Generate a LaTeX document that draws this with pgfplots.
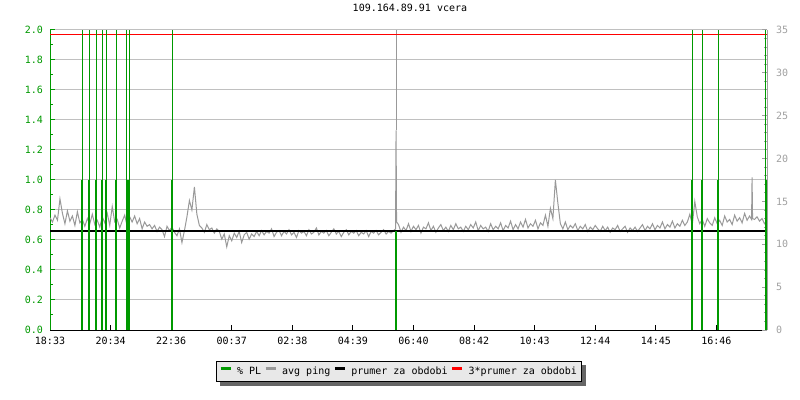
\documentclass[border=0pt]{standalone}
\usepackage{fontspec}
\setmainfont{DejaVu Sans Mono}
\usepackage{pgfplots}
\pgfplotsset{compat=1.18}

\definecolor{plgreen}{RGB}{0,153,0}
\definecolor{pinggray}{RGB}{153,153,153}
\definecolor{gridgray}{RGB}{192,192,192}
\definecolor{axgray}{RGB}{160,160,160}
\definecolor{legfill}{RGB}{232,232,232}
\definecolor{shadowgray}{RGB}{102,102,102}

\pgfdeclarelayer{background}
\pgfsetlayers{background,main}

% shared frame: plot area 717 x 300 px
\pgfplotsset{
  frame/.style={
    scale only axis, width=717bp, height=300bp,
    at={(0,0)}, anchor=south west,
    xmin=0, xmax=1440,
    tick label style={font=\fontsize{10bp}{12bp}\selectfont},
    /pgf/number format/assume math mode=true,
  },
}

\begin{document}
\begin{tikzpicture}
% left axis (% PL scale), grid and time axis
\begin{axis}[frame,
  ymin=0, ymax=2,
  axis y line*=left, axis x line*=bottom,
  tick align=inside,
  major tick length=5bp, minor tick length=3bp,
  xtick={0,121.7,243.3,365,486.7,608.3,730,851.7,973.3,1095,1216.7,1338.3},
  xticklabels={18:33,20:34,22:36,00:37,02:38,04:39,06:40,08:42,10:43,12:44,14:45,16:46},
  xticklabel style={yshift=-3.5bp},
  x axis line style={black, line width=1bp},
  x tick style={black, line width=1bp},
  ytick={0,0.2,0.4,0.6,0.8,1,1.2,1.4,1.6,1.8,2},
  minor y tick num=1,
  y axis line style={plgreen, line width=1bp},
  y tick style={plgreen, line width=1bp},
  yticklabel style={plgreen, xshift=-3.5bp,
    /pgf/number format/.cd, fixed, fixed zerofill, precision=1},
  ymajorgrids,
  grid style={gridgray, line width=1bp},
  title={109.164.89.91 vcera},
  title style={at={(0.502,1)}, anchor=center, yshift=16bp,
    font=\fontsize{10bp}{12bp}\selectfont},
]
\end{axis}

% right axis (avg ping, ms)
\begin{axis}[frame,
  ymin=0, ymax=35,
  axis y line*=right, axis x line=none,
  tick align=inside,
  major tick length=5bp, minor tick length=3bp,
  ytick={0,5,10,15,20,25,30,35},
  minor y tick num=4,
  y axis line style={axgray, line width=1bp},
  y tick style={axgray, line width=1bp},
  yticklabel style={axgray, xshift=5.5bp},
  legend columns=-1,
  legend image code/.code={\draw[#1, line width=3bp] (0bp,3bp) -- (10bp,3bp);},
  legend style={name=leg, at={(0.4868,-0.138)}, anchor=center,
    fill=legfill, draw=black, line width=1bp,
    inner xsep=2.5bp, inner ysep=3.5bp,
    font=\fontsize{10bp}{12bp}\selectfont,
    /tikz/every even column/.append style={column sep=1bp},
    /tikz/every odd column/.append style={column sep=3bp},
  },
  legend cell align=left,
]
\addlegendimage{plgreen}
\addlegendentry{\% PL}

\addplot[pinggray, line width=1bp] coordinates {
(0,13.1) (5,12.6) (10,13.4) (15,12.8) (20,15.3) (25,13.6) (30,12.4) (35,13.9) (40,12.7) (45,13.3)
(50,12.2) (55,13.8) (60,12.5) (65,12.9) (70,12.1) (75,13.0) (80,12.4) (85,13.5) (90,12.3)
(95,12.8) (100,12.0) (105,13.2) (110,12.5) (115,13.6) (120,12.2) (125,14.4) (130,12.6) (135,12.9)
(140,11.9) (145,12.7) (150,13.4) (155,12.1) (160,13.2) (165,12.6) (170,13.3) (175,12.4) (180,13.0)
(185,11.8) (190,12.6) (195,12.1) (200,12.3)
(205,11.8) (210,12.2) (215,11.5) (220,12.0) (225,11.7) (230,10.9) (235,12.1) (240,11.6) (245,12.0)
(250,11.4) (255,11.0) (260,11.8) (265,10.2) (270,11.6)
(275,13.2) (280,15.1) (285,14.0) (290,16.7) (295,13.5) (300,12.2)
(305,11.9) (310,11.4) (315,12.3) (320,11.7) (325,11.9) (330,11.3) (335,11.8) (340,11.5)
(345,10.6) (350,11.2) (355,9.7) (360,11.0) (365,10.4) (370,11.3) (375,10.8) (380,11.5) (385,10.2)
(390,11.1) (395,11.4) (400,10.6) (405,11.2) (410,10.9) (415,11.5) (420,11.0)
(425,11.6) (430,11.1) (435,11.5) (440,11.3) (445,11.8) (450,10.9) (455,11.4) (460,11.6) (465,11.0)
(470,11.5) (475,11.2) (480,11.7) (485,11.1) (490,11.4) (495,10.8) (500,11.6) (505,11.3) (510,11.5)
(515,11.0) (520,11.7) (525,11.2) (530,11.4) (535,11.9) (540,11.1) (545,11.5) (550,11.3) (555,11.6)
(560,11.0) (565,11.4) (570,11.8) (575,11.2) (580,11.5) (585,10.9) (590,11.4) (595,11.7) (600,11.1)
(605,11.5) (610,11.3) (615,11.6) (620,11.0) (625,11.4) (630,11.2) (635,11.6) (640,10.9) (645,11.5)
(650,11.3) (655,11.6) (660,11.1) (665,11.4) (670,11.7) (675,11.2) (680,11.5) (685,11.3) (690,11.6)
(694,11.8) (695,23.3) (696,12.6) (700,12.3)
(705,11.4) (710,12.0) (715,11.6) (720,12.4) (725,11.5) (730,12.1) (735,11.7) (740,12.2) (745,11.3)
(750,12.0) (755,11.8) (760,12.5) (765,11.6) (770,12.1) (775,11.4) (780,11.9) (785,12.3) (790,11.6)
(795,12.0) (800,11.5) (805,12.2) (810,11.7) (815,12.4) (820,11.8) (825,12.0) (830,11.5) (835,12.1)
(840,11.7) (845,12.3) (850,11.9) (855,12.6) (860,11.6) (865,12.2) (870,11.8) (875,12.0) (880,11.5)
(885,12.4) (890,11.7) (895,12.1) (900,11.8) (905,12.5) (910,11.6) (915,12.2) (920,11.9) (925,12.7)
(930,11.7) (935,12.3) (940,11.8) (945,12.6) (950,12.0) (955,12.9) (960,11.9) (965,12.4) (970,12.1)
(975,12.8) (980,11.8) (985,12.5) (990,12.2) (995,13.4) (1000,12.1) (1005,14.2) (1010,13.0)
(1015,17.5) (1020,14.8) (1025,12.4) (1030,11.8) (1035,12.6) (1040,11.7) (1045,12.2) (1050,11.9)
(1055,12.4) (1060,11.6) (1065,12.1) (1070,11.8) (1075,12.3) (1080,11.5) (1085,12.0) (1090,11.7)
(1095,12.2) (1100,11.8) (1105,11.5) (1110,12.1) (1115,11.6) (1120,12.0) (1125,11.4) (1130,11.9)
(1135,11.7) (1140,12.2) (1145,11.5) (1150,11.8) (1155,12.1) (1160,11.4) (1165,11.9) (1170,11.6)
(1175,12.0) (1180,11.5) (1185,11.9) (1190,12.3) (1195,11.6) (1200,12.1) (1205,11.8) (1210,12.4)
(1215,11.7) (1220,12.2) (1225,11.9) (1230,12.6) (1235,11.8) (1240,12.3) (1245,12.0) (1250,12.7)
(1255,11.9) (1260,12.4) (1265,12.1) (1270,12.8) (1275,12.2) (1280,12.6) (1285,13.5) (1290,12.3)
(1295,15.0) (1300,13.2) (1305,12.4) (1310,12.9) (1315,12.1) (1320,13.0) (1325,12.5) (1330,12.2)
(1335,13.1) (1340,12.4) (1345,12.8) (1350,12.2) (1355,13.3) (1360,12.6) (1365,12.9) (1370,12.3)
(1375,13.4) (1380,12.7) (1385,13.1) (1390,12.5) (1395,13.6) (1400,12.8) (1405,13.3)
(1409,12.9) (1410,17.8) (1411,13.0) (1415,12.9) (1420,13.2) (1425,12.7) (1430,13.0) (1435,12.4) (1440,12.8)
};
\addlegendentry{avg ping}

% timeout trace above the 06:40 spike
\addplot[pinggray, line width=1bp, forget plot] coordinates {(695,23.3) (695,35)};

\addplot[black, line width=2bp] coordinates {(0,11.5) (1440,11.5)};
\addlegendentry{prumer za obdobi}

\addplot[red, line width=1.5bp] coordinates {(0,34.5) (1440,34.5)};
\addlegendentry{3*prumer za obdobi}
\end{axis}

% % PL spikes on the left scale
\begin{axis}[frame, ymin=0, ymax=2, hide axis]
\addplot[plgreen, line width=1bp, ycomb] coordinates {
(64.9,2) (78.9,2) (93.0,2) (105.0,2) (113.1,2) (133.2,2) (154.0,2) (159.3,2) (245.6,2)
(1290,2) (1310,2) (1342,2) (1437,2)
};
\addplot[plgreen, line width=2bp, ycomb] coordinates {
(64.9,1) (78.9,1) (93.0,1) (105.0,1) (113.1,1) (133.2,1) (154.0,1) (159.3,1) (245.6,1)
(695,0.66) (1290,1) (1310,1) (1342,1) (1437,1)
};
\end{axis}

% legend shadow
\begin{pgfonlayer}{background}
\fill[shadowgray] ([shift={(4bp,-4bp)}]leg.south west) rectangle ([shift={(4bp,-4bp)}]leg.north east);
\end{pgfonlayer}

\path (-50bp,-70bp) rectangle (750bp,330bp);
\end{tikzpicture}
\end{document}
